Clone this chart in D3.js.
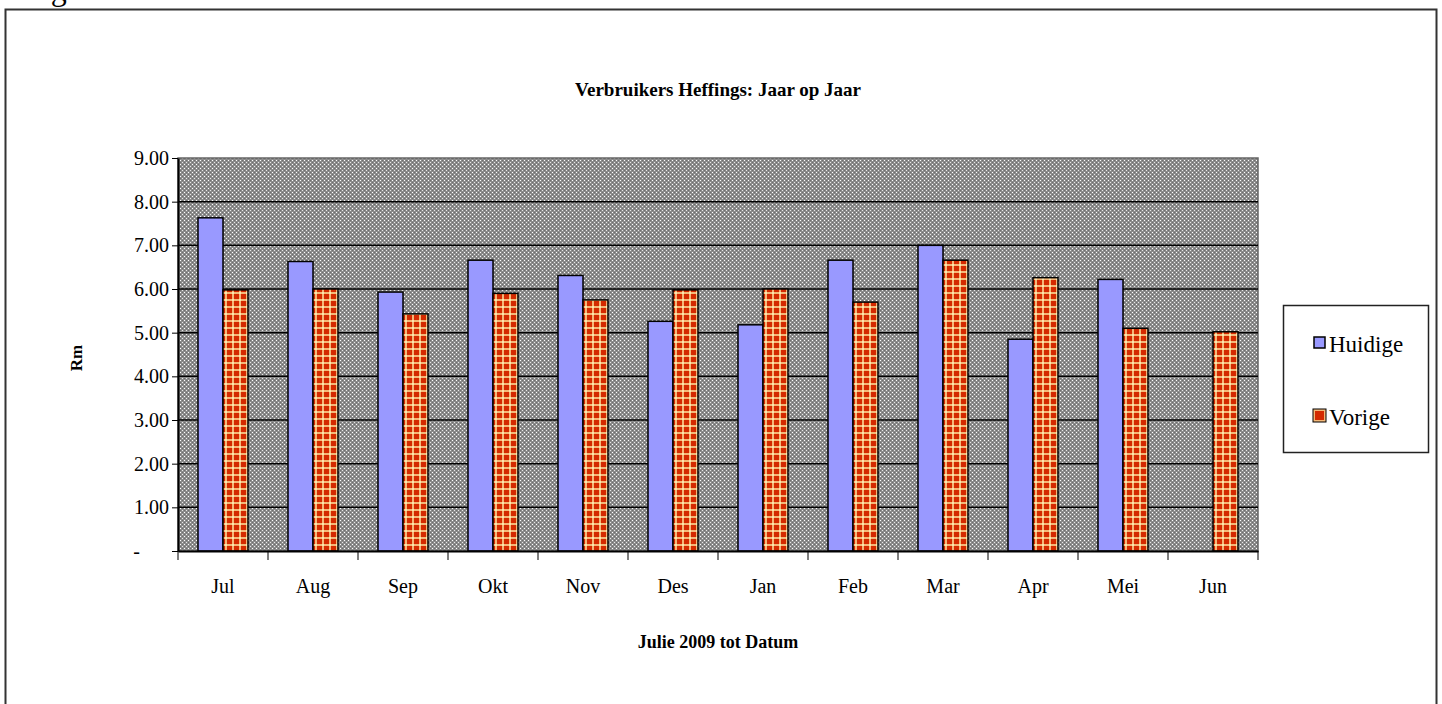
<!DOCTYPE html>
<html>
<head>
<meta charset="utf-8">
<script src="https://cdn.jsdelivr.net/npm/d3@7"></script>
<style>
  body { margin: 0; background: #fff; overflow: hidden; }
  text { font-family: "Liberation Serif", "Times New Roman", serif; fill: #000; }
</style>
</head>
<body>
<div id="chart"></div>
<script>
let width = 1442, height = 704;

let margin = ({top: 158, right: 184, bottom: 153, left: 178});

let months = ["Jul", "Aug", "Sep", "Okt", "Nov", "Des", "Jan", "Feb", "Mar", "Apr", "Mei", "Jun"];
let huidige = [7.63, 6.63, 5.93, 6.66, 6.31, 5.26, 5.18, 6.66, 7.00, 4.85, 6.22, null];
let vorige = [5.98, 6.00, 5.43, 5.90, 5.75, 5.98, 6.00, 5.70, 6.66, 6.26, 5.10, 5.02];
let seriesNames = ["Huidige", "Vorige"];
let yTicks = [0, 1, 2, 3, 4, 5, 6, 7, 8, 9];

let svg = d3.select("#chart").append("svg")
    .attr("width", width)
    .attr("height", height);

let defs = svg.append("defs");

// speckled grey plot background
let bgPat = defs.append("pattern")
    .attr("id", "speckle")
    .attr("patternUnits", "userSpaceOnUse")
    .attr("width", 4).attr("height", 4);
bgPat.append("rect").attr("width", 4).attr("height", 4).attr("fill", "#8c8c8c");
bgPat.append("rect").attr("x", 0).attr("y", 0).attr("width", 1).attr("height", 1).attr("fill", "#ffffff");
bgPat.append("rect").attr("x", 2).attr("y", 2).attr("width", 1).attr("height", 1).attr("fill", "#e8e8e8");
bgPat.append("rect").attr("x", 2).attr("y", 0).attr("width", 1).attr("height", 1).attr("fill", "#6e6e6e");
bgPat.append("rect").attr("x", 0).attr("y", 2).attr("width", 1).attr("height", 1).attr("fill", "#6e6e6e");

// red plaid for Vorige
let plaid = defs.append("pattern")
    .attr("id", "plaid")
    .attr("patternUnits", "userSpaceOnUse")
    .attr("width", 7).attr("height", 7);
plaid.append("rect").attr("width", 7).attr("height", 7).attr("fill", "#d42a00");
plaid.append("rect").attr("x", 5).attr("width", 2).attr("height", 7).attr("fill", "#f4b878");
plaid.append("rect").attr("y", 5).attr("width", 7).attr("height", 2).attr("fill", "#f4b878");
plaid.append("rect").attr("x", 5).attr("y", 5).attr("width", 2).attr("height", 2).attr("fill", "#fde6b0");

// outer frame
svg.append("rect")
    .attr("x", 5.5).attr("y", 9.5)
    .attr("width", 1431).attr("height", 710)
    .attr("fill", "none")
    .attr("stroke", "#333")
    .attr("stroke-width", 2);

// caption above the frame, cut off by the page top as in the source
svg.append("text")
    .attr("x", 24).attr("y", 0)
    .style("font-size", "32px")
    .text("Figuur");

let xScale = d3.scaleBand()
    .domain(months)
    .range([margin.left, width - margin.right]);

let x1 = d3.scaleBand()
    .domain(seriesNames)
    .range([0, xScale.bandwidth()])
    .paddingInner(0)
    .paddingOuter(0.8);

let yScale = d3.scaleLinear()
    .domain([0, 9])
    .range([height - margin.bottom, margin.top]);

let plotW = width - margin.left - margin.right;
let plotH = height - margin.top - margin.bottom;

svg.append("rect")
    .attr("x", margin.left).attr("y", margin.top)
    .attr("width", plotW).attr("height", plotH)
    .attr("fill", "url(#speckle)")
    .attr("stroke", "#666")
    .attr("stroke-width", 1.5);

// gridlines
svg.append("g")
    .selectAll("line")
    .data(yTicks.filter(d => d > 0 && d < 9))
    .enter().append("line")
    .attr("x1", margin.left).attr("x2", width - margin.right)
    .attr("y1", d => yScale(d)).attr("y2", d => yScale(d))
    .attr("stroke", "#000")
    .attr("stroke-width", 1.5);

let data = months.map((m, i) => ({month: m, values: [
    {key: "Huidige", value: huidige[i]},
    {key: "Vorige", value: vorige[i]}
]}));

let groups = svg.append("g")
    .selectAll("g")
    .data(data)
    .enter().append("g")
    .attr("transform", d => "translate(" + xScale(d.month) + ",0)");

groups.selectAll("rect")
    .data(d => d.values.filter(v => v.value != null))
    .enter().append("rect")
    .attr("x", d => x1(d.key))
    .attr("y", d => yScale(d.value))
    .attr("width", x1.bandwidth())
    .attr("height", d => yScale(0) - yScale(d.value))
    .attr("fill", d => d.key === "Huidige" ? "#9999ff" : "url(#plaid)")
    .attr("stroke", "#000")
    .attr("stroke-width", 1.5);

// axes
let yAxis = d3.axisLeft(yScale)
    .tickValues(yTicks)
    .tickSizeInner(6)
    .tickSizeOuter(0)
    .tickPadding(3)
    .tickFormat(d => d === 0 ? "-" : d3.format(".2f")(d));

let gY = svg.append("g")
    .attr("transform", "translate(" + margin.left + ",0)")
    .call(yAxis);
gY.select(".domain").attr("stroke", "#000").attr("stroke-width", 2);
gY.selectAll(".tick line").attr("stroke", "#000");
gY.selectAll(".tick text")
    .style("font-size", "20px")
    .style("font-family", "'Liberation Serif', serif")
    .attr("x", d => d === 0 ? -38 : -9);

let xAxis = d3.axisBottom(xScale)
    .tickSize(0)
    .tickPadding(28);

let gX = svg.append("g")
    .attr("transform", "translate(0," + yScale(0) + ")")
    .call(xAxis);
gX.select(".domain").attr("stroke", "#000").attr("stroke-width", 2);
gX.selectAll(".tick text")
    .style("font-size", "20px")
    .style("font-family", "'Liberation Serif', serif");

// tick marks at category boundaries
let boundaries = months.map(m => xScale(m)).concat([width - margin.right]);
gX.append("g")
    .selectAll("line")
    .data(boundaries)
    .enter().append("line")
    .attr("x1", d => d).attr("x2", d => d)
    .attr("y1", 0).attr("y2", 9)
    .attr("stroke", "#000")
    .attr("stroke-width", 1);

// titles
svg.append("text")
    .attr("x", 718).attr("y", 96)
    .attr("text-anchor", "middle")
    .style("font-size", "19px")
    .style("font-weight", "bold")
    .text("Verbruikers Heffings: Jaar op Jaar");

svg.append("text")
    .attr("x", 718).attr("y", 648)
    .attr("text-anchor", "middle")
    .style("font-size", "18px")
    .style("font-weight", "bold")
    .text("Julie 2009 tot Datum");

svg.append("text")
    .attr("transform", "translate(82,358) rotate(-90)")
    .attr("text-anchor", "middle")
    .style("font-size", "17px")
    .style("font-weight", "bold")
    .text("Rm");

// legend
let legend = svg.append("g");
legend.append("rect")
    .attr("x", 1283.5).attr("y", 305.5)
    .attr("width", 145).attr("height", 147)
    .attr("fill", "#fff")
    .attr("stroke", "#222")
    .attr("stroke-width", 1.5);

let legendItems = legend.selectAll("g")
    .data(seriesNames)
    .enter().append("g")
    .attr("transform", (d, i) => "translate(1314," + (352 + i * 73) + ")");

legendItems.append("rect")
    .attr("x", 0).attr("y", -15)
    .attr("width", 11).attr("height", 11)
    .attr("fill", d => d === "Huidige" ? "#9999ff" : "#d42a00")
    .attr("stroke", d => d === "Huidige" ? "#000" : "#f4b878")
    .attr("stroke-width", d => d === "Huidige" ? 1.5 : 2);

legendItems.filter(d => d === "Vorige").append("rect")
    .attr("x", -1).attr("y", -16)
    .attr("width", 13).attr("height", 13)
    .attr("fill", "none")
    .attr("stroke", "#000")
    .attr("stroke-width", 1);

legendItems.append("text")
    .attr("x", 15).attr("y", 0)
    .style("font-size", "23px")
    .text(d => d);
</script>
</body>
</html>
